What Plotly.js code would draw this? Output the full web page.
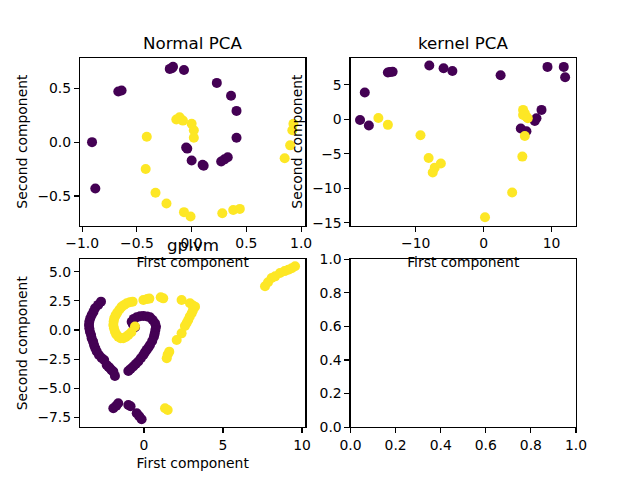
<!DOCTYPE html>
<html>
<head>
<meta charset="utf-8">
<script src="https://cdn.plot.ly/plotly-3.0.1.min.js"></script>
<style>
  html, body { margin: 0; padding: 0; background: white; }
  #chart { width: 640px; height: 480px; }
</style>
</head>
<body>
<div id="chart"></div>
<script>
// classe 0 (violet) et classe 1 (jaune) pour chaque méthode
var titres = ['Normal PCA', 'kernel PCA', 'gplvm'];

// Normal PCA
var pcaX0 = [-0.18, -0.17, -0.20, -0.07, 0.23, 0.36, 0.41, 0.41, -0.67, -0.64, -0.91, -0.88, -0.05, -0.04, 0.0, 0.10, 0.11, 0.27, 0.30, 0.33];
var pcaY0 = [0.686, 0.70, 0.68, 0.67, 0.55, 0.43, 0.29, 0.04, 0.47, 0.48, 0.0, -0.43, -0.05, -0.06, -0.17, -0.21, -0.22, -0.18, -0.16, -0.14];
var pcaX1 = [-0.14, -0.11, -0.08, 0.0, 0.02, 0.02, -0.41, -0.42, -0.33, -0.23, -0.07, -0.01, 0.28, 0.38, 0.44, 0.85, 0.90, 0.92, 0.93];
var pcaY1 = [0.21, 0.23, 0.20, 0.17, 0.11, 0.04, 0.05, -0.25, -0.47, -0.57, -0.65, -0.69, -0.66, -0.63, -0.62, -0.15, -0.03, 0.11, 0.17];

// kernel PCA
var kpcaX0 = [-18.2, -16.9, -17.5, -14.1, -13.8, -13.4, -8.0, -5.9, -4.6, 2.5, 9.4, 11.8, 12.0, 8.52, 7.78, 7.53, 5.47, 6.3];
var kpcaY0 = [-0.1, -0.9, 3.9, 6.8, 6.85, 6.9, 7.8, 7.4, 7.0, 6.4, 7.6, 7.6, 6.1, 1.37, 0.15, -0.25, -1.32, -1.72];
var kpcaX1 = [-15.5, -14.1, -9.3, -8.1, -7.2, -7.5, -6.3, 4.2, 0.2, 5.7, 6.06, 5.81, 6.06, 6.3, 5.81, 6.5];
var kpcaY1 = [0.2, -0.8, -2.3, -5.6, -7.0, -7.7, -6.4, -10.6, -14.2, -5.4, -2.41, 1.37, 0.88, 0.38, 0.63, 0.15];

// gplvm
var gpX0 = [-2.72, -2.9, -3.1, -3.2, -3.31, -3.4, -3.46, -3.48, -3.46, -3.42, -3.35, -3.31, -3.22, -3.16, -3.08, -2.99, -2.85, -2.68, -2.52, -2.36, -2.25, -2.15, -2.05, -1.94, -1.84,
  -0.57, -0.7, -0.78, -0.65, -0.46, -0.25, -0.04, 0.2, 0.38, 0.55, 0.70, 0.76, 0.72, 0.68, 0.63, 0.52, 0.38, 0.28, 0.17, 0.06, -0.04, -0.2, -0.36, -0.52, -0.68, -0.85, -0.99,
  -1.94, -1.75, -1.63, -0.99, -0.85, -0.46, -0.3, -0.15];
var gpY0 = [2.43, 2.15, 1.86, 1.55, 1.29, 1.0, 0.71, 0.42, 0.14, -0.15, -0.43, -0.72, -1.0, -1.3, -1.57, -1.85, -2.14, -2.4, -2.57, -3.0, -3.15, -3.29, -3.45, -3.57, -3.94,
  0.23, 0.5, 0.71, 0.95, 1.09, 1.18, 1.2, 1.16, 1.09, 0.85, 0.57, 0.28, 0.0, -0.3, -0.57, -0.95, -1.29, -1.5, -1.71, -1.92, -2.14, -2.42, -2.71, -2.92, -3.14, -3.35, -3.52,
  -6.72, -6.5, -6.29, -6.43, -6.55, -7.14, -7.4, -7.66];
var gpX1 = [-0.57, -0.8, -0.99, -1.15, -1.31, -1.48, -1.63, -1.75, -1.84, -1.9, -1.94, -1.92, -1.88, -1.8, -1.69, -1.55, -1.41, -1.25, -1.09, -0.9, -0.72,
  -0.04, 0.2, 0.34, 1.06, 1.22, 2.38,
  2.91, 3.1, 3.23, 3.1, 3.02, 2.9, 2.80, 2.7, 2.59, 2.38, 2.07, 1.6, 1.5, 1.44,
  1.33, 1.5,
  7.66, 7.85, 8.08, 8.3, 8.61, 8.9, 9.13, 9.35, 9.56];
var gpY1 = [0.3, -0.2, -0.43, -0.6, -0.71, -0.7, -0.57, -0.38, -0.14, 0.15, 0.43, 0.72, 1.0, 1.25, 1.49, 1.75, 2.0, 2.15, 2.29, 2.38, 2.43,
  2.57, 2.65, 2.69, 2.8, 2.71, 2.57,
  2.29, 2.1, 2.0, 1.7, 1.43, 1.15, 0.86, 0.6, 0.34, -0.29, -0.86, -1.86, -2.1, -2.43,
  -6.72, -6.86,
  3.75, 4.1, 4.46, 4.6, 4.89, 5.05, 5.17, 5.3, 5.46];

const violet = '#440154', jaune = '#fde725';
const police = 'DejaVu Sans, sans-serif';

function nuage(x, y, couleur, n) {
    return {
        x: x, y: y,
        xaxis: 'x' + (n > 1 ? n : ''),
        yaxis: 'y' + (n > 1 ? n : ''),
        mode: 'markers',
        type: 'scatter',
        marker: { color: couleur, size: 10, line: { width: 0 } },
        showlegend: false,
        hoverinfo: 'none',
    };
}

var data = [
    nuage(pcaX0, pcaY0, violet, 1), nuage(pcaX1, pcaY1, jaune, 1),
    nuage(kpcaX0, kpcaY0, violet, 2), nuage(kpcaX1, kpcaY1, jaune, 2),
    nuage(gpX0, gpY0, violet, 3), nuage(gpX1, gpY1, jaune, 3),
    nuage([], [], violet, 4), // sous-graphe vide, comme dans l'original
];

// style commun des axes, façon matplotlib
function axe(domaine, ancre, plage, ticks, format, titre) {
    var a = {
        domain: domaine,
        anchor: ancre,
        range: plage,
        tickvals: ticks,
        tickformat: format,
        showline: true, mirror: true,
        linecolor: 'black', linewidth: 1.1,
        ticks: 'outside', ticklen: 5, tickwidth: 1.1, tickcolor: 'black',
        showgrid: false, zeroline: false,
        tickfont: { family: police, size: 13.9, color: 'black' },
        fixedrange: true,
    };
    if (titre) {
        a.title = { text: titre, font: { family: police, size: 13.9, color: 'black' }, standoff: 6 };
    }
    return a;
}

const gauche = [0.125, 0.4773], droite = [0.5477, 0.9];
const haut = [0.53, 0.88], bas = [0.11, 0.46];

var layout = {
    width: 640, height: 480,
    margin: { l: 0, r: 0, t: 0, b: 0, pad: 0 },
    paper_bgcolor: 'white', plot_bgcolor: 'white',
    font: { family: police, color: 'black' },
    xaxis: axe(gauche, 'y', [-1.02, 1.04], [-1, -0.5, 0, 0.5, 1], '.1f', 'First component'),
    yaxis: axe(haut, 'x', [-0.775, 0.785], [-0.5, 0, 0.5], '.1f', 'Second component'),
    xaxis2: axe(droite, 'y2', [-19.6, 13.6], [-10, 0, 10], 'd', 'First component'),
    yaxis2: axe(haut, 'x2', [-15.4, 8.95], [-15, -10, -5, 0, 5], 'd', 'Second component'),
    xaxis3: axe(gauche, 'y3', [-4.05, 10.22], [0, 5, 10], 'd', 'First component'),
    yaxis3: axe(bas, 'x3', [-8.34, 6.07], [-7.5, -5, -2.5, 0, 2.5, 5], '.1f', 'Second component'),
    xaxis4: axe(droite, 'y4', [0, 1], [0, 0.2, 0.4, 0.6, 0.8, 1], '.1f'),
    yaxis4: axe(bas, 'x4', [0, 1], [0, 0.2, 0.4, 0.6, 0.8, 1], '.1f'),
    annotations: [
        { text: titres[0], x: (gauche[0] + gauche[1]) / 2, y: 1 - 43 / 480 },
        { text: titres[1], x: (droite[0] + droite[1]) / 2, y: 1 - 43 / 480 },
        { text: titres[2], x: (gauche[0] + gauche[1]) / 2, y: 1 - 245 / 480 },
    ].map(a => Object.assign(a, {
        xref: 'paper', yref: 'paper', xanchor: 'center', yanchor: 'middle',
        showarrow: false, font: { family: police, size: 16.7, color: 'black' },
    })),
};

Plotly.newPlot('chart', data, layout, { displayModeBar: false, staticPlot: true });
</script>
</body>
</html>
